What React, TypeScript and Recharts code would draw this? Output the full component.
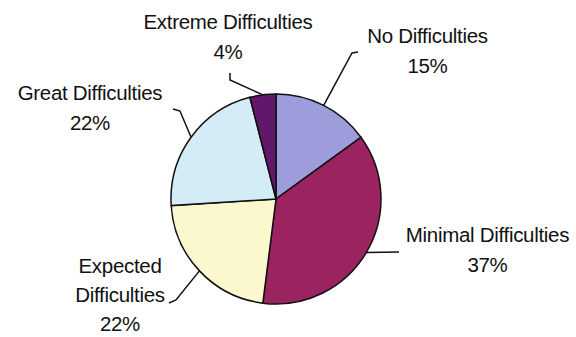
import { PieChart, Pie, Cell } from 'recharts';

document.body.style.margin = '0';

const categories = ['No Difficulties', 'Minimal Difficulties', 'Expected Difficulties', 'Great Difficulties', 'Extreme Difficulties'];
const shares = [15, 37, 22, 22, 4];
const labelRows = [['No Difficulties'], ['Minimal Difficulties'], ['Expected', 'Difficulties'], ['Great Difficulties'], ['Extreme Difficulties']];

const colors = ['#9e9ddc', '#9a2360', '#fbf8cd', '#d4ecf5', '#62186a'];

// leader elbow / end and text anchor, relative to pie centre (Excel-style hand placement)
const layout = [
    { elbow: [76, -146], end: [82, -147], text: [151.5, -156] },
    { elbow: null, end: [123, 53], text: [211.5, 43] },
    { elbow: [-100, 101], end: [-107, 104], text: [-156, 74] },
    { elbow: [-96, -88], end: [-103, -90], text: [-186, -99] },
    { elbow: [-46, -119], end: [-46, -126], text: [-48, -170] },
];

const data = categories.map((name, i) => ({ name, value: shares[i] }));

const RAD = Math.PI / 180;
const FONT = '"Liberation Sans", Arial, sans-serif';

const renderLabel = (props: any) => {
    const { cx, cy, midAngle, outerRadius, index, value } = props;
    const L = layout[index];
    const sx = cx + outerRadius * Math.cos(-midAngle * RAD);
    const sy = cy + outerRadius * Math.sin(-midAngle * RAD);
    const pts = [[sx, sy]];
    if (L.elbow) pts.push([cx + L.elbow[0], cy + L.elbow[1]]);
    pts.push([cx + L.end[0], cy + L.end[1]]);
    const rows = [...labelRows[index], `${value}%`];
    const tx = cx + L.text[0];
    const ty = cy + L.text[1];
    return (
        <g key={`lbl-${index}`}>
            <polyline points={pts.map(p => p.join(',')).join(' ')} fill="none" stroke="#111" strokeWidth={1.5} />
            <text x={tx} y={ty} textAnchor="middle" fill="#111" fontSize={20.5} fontFamily={FONT} letterSpacing={-0.3}>
                {rows.map((r, k) => (
                    <tspan key={k} x={tx} dy={k === 0 ? 0 : (index === 2 ? 29 : 30)}>{r}</tspan>
                ))}
            </text>
        </g>
    );
};

export default function App() {
    return (
        <div style={{ width: 576, height: 337, background: '#fff' }}>
            <PieChart width={576} height={337} margin={{ top: 0, right: 0, bottom: 0, left: 0 }}>
                <Pie
                    data={data}
                    dataKey="value"
                    nameKey="name"
                    cx={276}
                    cy={199}
                    outerRadius={105}
                    startAngle={90}
                    endAngle={-270}
                    stroke="#111"
                    strokeWidth={1.5}
                    label={renderLabel}
                    labelLine={false}
                    isAnimationActive={false}
                >
                    {data.map((d, i) => (
                        <Cell key={d.name} fill={colors[i]} />
                    ))}
                </Pie>
            </PieChart>
        </div>
    );
}
